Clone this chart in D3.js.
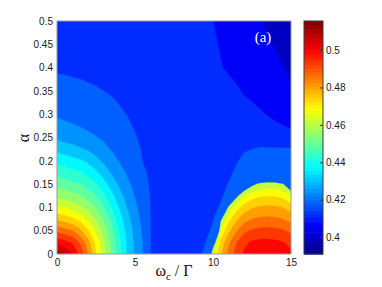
<!DOCTYPE html>
<html>
<head>
<meta charset="utf-8">
<script src="https://cdn.jsdelivr.net/npm/d3@7"></script>
<style>
  body { margin: 0; background: #fff; }
  svg { display: block; }
</style>
</head>
<body>
<script>
// main map: columns are omega_c / Gamma, rows are alpha (bottom -> top)
const xs = [0, 0.5, 1, 1.5, 2, 2.5, 3, 3.5, 4, 4.5, 5, 5.5, 6, 7, 8, 9, 9.5, 10, 10.5, 11, 11.5, 12, 13, 14, 15]
const ys = [0, 0.025, 0.05, 0.075, 0.1, 0.125, 0.15, 0.175, 0.2, 0.225, 0.25, 0.3, 0.35, 0.4, 0.45, 0.5]
const zRows = [
  [.5120, .5082, .5025, .4942, .4838, .4713, .4608, .4516, .4421, .4331, .4265, .4213, .4150, .4125, .4118, .4128, .4165, .4190, .4190, .4190, .4190, .4190, .4190, .4190, .4190],
  [.5008, .4983, .4952, .4888, .4798, .4692, .4594, .4507, .4413, .4327, .4262, .4210, .4150, .4125, .4118, .4122, .4148, .4185, .4190, .4190, .4190, .4190, .4190, .4190, .4190],
  [.4879, .4859, .4839, .4787, .4719, .4640, .4560, .4482, .4393, .4315, .4254, .4203, .4149, .4125, .4118, .4120, .4138, .4158, .4190, .4190, .4190, .4190, .4190, .4190, .4190],
  [.4763, .4743, .4723, .4689, .4638, .4578, .4515, .4444, .4365, .4296, .4242, .4194, .4149, .4125, .4118, .4120, .4130, .4148, .4180, .4190, .4190, .4190, .4190, .4190, .4190],
  [.4658, .4651, .4626, .4599, .4563, .4519, .4465, .4401, .4332, .4272, .4226, .4184, .4148, .4125, .4118, .4120, .4125, .4140, .4155, .4185, .4190, .4190, .4190, .4190, .4190],
  [.4573, .4558, .4544, .4529, .4498, .4461, .4412, .4355, .4297, .4250, .4209, .4174, .4147, .4127, .4120, .4120, .4124, .4132, .4143, .4165, .4185, .4190, .4190, .4190, .4190],
  [.4503, .4490, .4477, .4465, .4436, .4405, .4360, .4310, .4263, .4226, .4194, .4165, .4145, .4128, .4122, .4121, .4123, .4128, .4135, .4152, .4172, .4190, .4190, .4190, .4190],
  [.4440, .4428, .4417, .4405, .4382, .4348, .4308, .4267, .4235, .4205, .4181, .4157, .4143, .4129, .4124, .4122, .4123, .4125, .4130, .4140, .4158, .4175, .4185, .4185, .4185],
  [.4383, .4370, .4357, .4344, .4323, .4291, .4262, .4235, .4209, .4189, .4169, .4149, .4140, .4130, .4126, .4123, .4123, .4124, .4127, .4132, .4145, .4162, .4172, .4172, .4172],
  [.4319, .4307, .4295, .4282, .4267, .4247, .4227, .4208, .4192, .4176, .4159, .4147, .4138, .4130, .4127, .4124, .4123, .4123, .4125, .4128, .4135, .4145, .4155, .4155, .4155],
  [.4263, .4253, .4244, .4234, .4225, .4215, .4203, .4190, .4177, .4164, .4152, .4144, .4137, .4131, .4128, .4125, .4124, .4123, .4123, .4124, .4125, .4125, .4128, .4115, .4100],
  [.4203, .4197, .4191, .4185, .4179, .4173, .4166, .4160, .4154, .4149, .4143, .4138, .4135, .4130, .4128, .4126, .4124, .4122, .4120, .4118, .4115, .4110, .4095, .4075, .4065],
  [.4170, .4167, .4163, .4160, .4156, .4153, .4150, .4147, .4144, .4141, .4138, .4136, .4134, .4130, .4127, .4124, .4121, .4118, .4113, .4105, .4095, .4082, .4065, .4045, .4030],
  [.4143, .4142, .4141, .4140, .4139, .4138, .4137, .4136, .4135, .4134, .4133, .4132, .4131, .4129, .4127, .4122, .4115, .4100, .4090, .4080, .4070, .4062, .4048, .4036, .4015],
  [.4138, .4137, .4136, .4135, .4134, .4133, .4132, .4131, .4130, .4129, .4128, .4127, .4126, .4125, .4123, .4120, .4112, .4095, .4083, .4072, .4062, .4052, .4035, .4022, .4000],
  [.4135, .4134, .4133, .4132, .4131, .4130, .4129, .4128, .4127, .4126, .4125, .4124, .4123, .4122, .4120, .4118, .4105, .4088, .4075, .4065, .4055, .4045, .4027, .4010, .3980],
]

// island at large omega_c, it sits on top of the main map
const islandXs = [9.5, 10, 10.5, 11, 11.5, 12, 12.5, 13, 13.5, 14, 14.5, 15]
const islandYs = [0, 0.025, 0.05, 0.075, 0.1, 0.125, 0.15, 0.175]
const islandRows = [
  [.4338, .4650, .4765, .4855, .4925, .4972, .4990, .4997, .4997, .4992, .4984, .4972],
  [.4000, .4520, .4728, .4824, .4897, .4949, .4971, .4978, .4979, .4974, .4965, .4949],
  [.4000, .4200, .4665, .4759, .4832, .4885, .4908, .4918, .4920, .4916, .4906, .4885],
  [.4000, .4000, .4568, .4691, .4763, .4814, .4837, .4848, .4851, .4848, .4837, .4814],
  [.4000, .3900, .4398, .4600, .4684, .4741, .4769, .4783, .4787, .4784, .4773, .4741],
  [.4000, .3900, .4227, .4422, .4565, .4648, .4685, .4704, .4709, .4707, .4694, .4648],
  [.4000, .3900, .4060, .4242, .4374, .4496, .4566, .4601, .4610, .4609, .4588, .4496],
  [.4000, .3900, .3900, .4061, .4185, .4305, .4377, .4418, .4435, .4437, .4406, .4305],
]

const xTicks = [0, 5, 10, 15]
const yTicks = [0, 0.05, 0.1, 0.15, 0.2, 0.25, 0.3, 0.35, 0.4, 0.45, 0.5]
const cTicks = [0.4, 0.42, 0.44, 0.46, 0.48, 0.5]
const cDomain = [0.391, 0.5155]
const levelStep = 0.00625
const levels = d3.range(0.39, 0.512, levelStep)

let dimensions = {
  width: 382,
  height: 287,
  margin: {top: 21, right: 91, bottom: 33, left: 57},
}
dimensions.boundedWidth = dimensions.width - dimensions.margin.left - dimensions.margin.right
dimensions.boundedHeight = dimensions.height - dimensions.margin.top - dimensions.margin.bottom

const wrapper = d3.select("body")
  .append("svg")
    .attr("width", dimensions.width)
    .attr("height", dimensions.height)
    .style("font-family", "'Liberation Sans', Arial, sans-serif")

const bounds = wrapper.append("g")
  .attr("transform", `translate(${dimensions.margin.left},${dimensions.margin.top})`)

const xScale = d3.scaleLinear([0, 15], [0, dimensions.boundedWidth])
const yScale = d3.scaleLinear([0, 0.5], [dimensions.boundedHeight, 0])

// jet colormap
const cSpan = cDomain[1] - cDomain[0]
const jet = d3.scaleLinear()
  .domain([0, 0.125, 0.375, 0.625, 0.875, 1].map(t => cDomain[0] + t * cSpan))
  .range(["#000080", "#0000ff", "#00ffff", "#ffff00", "#ff0000", "#800000"])
  .clamp(true)

bounds.append("clipPath").attr("id", "plot-clip")
  .append("rect")
    .attr("width", dimensions.boundedWidth)
    .attr("height", dimensions.boundedHeight)

const mapLayer = bounds.append("g").attr("clip-path", "url(#plot-clip)")

function drawField(gx, gy, rows, thresholds) {
  // grid index -> data value, samples sit at index + 0.5 in contour space
  const xIndex = d3.scaleLinear().domain(gx.map((d, i) => i + 0.5)).range(gx).clamp(true)
  const yIndex = d3.scaleLinear().domain(gy.map((d, i) => i + 0.5)).range(gy).clamp(true)
  const path = d3.geoPath(d3.geoTransform({
    point: function(x, y) {
      this.stream.point(xScale(xIndex(x)), yScale(yIndex(y)))
    }
  }))
  const bands = d3.contours()
    .size([gx.length, gy.length])
    .thresholds(thresholds)(rows.flat())

  mapLayer.append("g").selectAll("path")
    .data(bands)
    .join("path")
      .attr("d", path)
      .attr("fill", d => jet(d.value + levelStep / 2))
      .attr("stroke", d => jet(d.value + levelStep / 2))
      .attr("stroke-width", 0.3)
}

drawField(xs, ys, zRows, levels)
drawField(islandXs, islandYs, islandRows, levels.filter(t => t > 0.4585))

// frame
bounds.append("rect")
  .attr("width", dimensions.boundedWidth)
  .attr("height", dimensions.boundedHeight)
  .attr("fill", "none")
  .attr("stroke", "#9a9a9a")
  .attr("stroke-width", 1)

// axes
const xAxis = bounds.append("g")
  .attr("transform", `translate(0,${dimensions.boundedHeight})`)
  .call(d3.axisBottom(xScale).tickValues(xTicks).tickSize(0).tickPadding(5))
xAxis.select(".domain").remove()

const yAxis = bounds.append("g")
  .call(d3.axisLeft(yScale).tickValues(yTicks).tickSize(0).tickPadding(4)
    .tickFormat(d3.format(".2~f")))
yAxis.select(".domain").remove()

wrapper.selectAll(".tick text")
  .attr("fill", "#1a1a1a")
  .style("font-size", "10px")
  .style("font-family", "'Liberation Sans', Arial, sans-serif")

// axis labels
wrapper.append("text")
  .attr("transform", "translate(29,138) rotate(-90)")
  .attr("text-anchor", "middle")
  .style("font-family", "'Liberation Serif', 'Times New Roman', serif")
  .style("font-size", "16px")
  .attr("fill", "#111")
  .text("α")

const xLabel = wrapper.append("text")
  .attr("x", 174)
  .attr("y", 276)
  .attr("text-anchor", "middle")
  .style("font-family", "'Liberation Serif', 'Times New Roman', serif")
  .style("font-size", "16px")
  .attr("fill", "#111")
xLabel.append("tspan").text("ω")
xLabel.append("tspan").attr("dy", 4).style("font-size", "11px").text("c")
xLabel.append("tspan").attr("dy", -4).text(" / Γ")

wrapper.append("text")
  .attr("x", 263)
  .attr("y", 42)
  .attr("text-anchor", "middle")
  .style("font-family", "'Liberation Serif', 'Times New Roman', serif")
  .style("font-size", "15px")
  .attr("fill", "#fff")
  .text("(a)")

// colorbar
const cbar = {x: 304, width: 19}
const cbScale = d3.scaleLinear(cDomain, [dimensions.margin.top + dimensions.boundedHeight, dimensions.margin.top])
const nColors = 64
const cbar_g = wrapper.append("g")
cbar_g.selectAll("rect")
  .data(d3.range(nColors))
  .join("rect")
    .attr("x", cbar.x)
    .attr("width", cbar.width)
    .attr("y", i => cbScale(cDomain[0] + (i + 1) * cSpan / nColors))
    .attr("height", i => cbScale(cDomain[0] + i * cSpan / nColors) - cbScale(cDomain[0] + (i + 1) * cSpan / nColors) + 0.6)
    .attr("fill", i => jet(cDomain[0] + (i + 0.5) * cSpan / nColors))

cbar_g.append("rect")
  .attr("x", cbar.x)
  .attr("y", dimensions.margin.top)
  .attr("width", cbar.width)
  .attr("height", dimensions.boundedHeight)
  .attr("fill", "none")
  .attr("stroke", "#3a3a3a")

const cAxis = wrapper.append("g")
  .attr("transform", `translate(${cbar.x + cbar.width},0)`)
  .call(d3.axisRight(cbScale).tickValues(cTicks).tickSize(-3).tickPadding(3)
    .tickFormat(d3.format(".2~f")))
cAxis.select(".domain").remove()
cAxis.selectAll(".tick line").attr("stroke", "#3a3a3a")
cAxis.selectAll(".tick text")
  .attr("fill", "#1a1a1a")
  .style("font-size", "10px")
  .style("font-family", "'Liberation Sans', Arial, sans-serif")
</script>
</body>
</html>
